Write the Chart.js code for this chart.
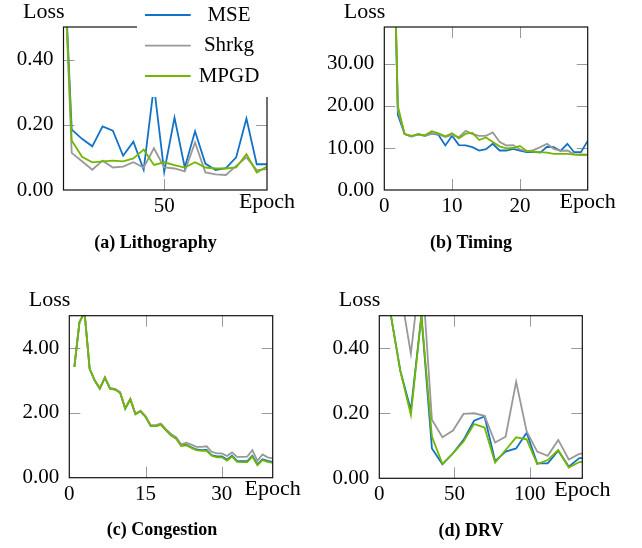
<!DOCTYPE html>
<html>
<head>
<meta charset="utf-8">
<script src="https://cdn.jsdelivr.net/npm/chart.js@4.4.1/dist/chart.umd.min.js"></script>
<style>
  body { margin: 0; background: #fff; }
  #wrap { position: relative; width: 642px; height: 548px; }
  canvas { position: absolute; }
</style>
</head>
<body>
<div id="wrap">
  <canvas id="chartA" width="321" height="274" style="left:0;top:0"></canvas>
  <canvas id="chartB" width="321" height="274" style="left:321px;top:0"></canvas>
  <canvas id="chartC" width="321" height="274" style="left:0;top:274px"></canvas>
  <canvas id="chartD" width="321" height="274" style="left:321px;top:274px"></canvas>
</div>
<script>
// (a) Lithography
const epochsA = [1, 5, 10, 15, 20, 25, 30, 35, 40, 45, 50, 55, 60, 65, 70, 75, 80, 85, 90, 95, 100];
const mseA   = [0.75, 0.185, 0.157, 0.134, 0.195, 0.182, 0.105, 0.148, 0.062, 0.32, 0.056, 0.222, 0.069, 0.18, 0.081, 0.061, 0.067, 0.1, 0.219, 0.079, 0.079];
const shrkgA = [0.75, 0.114, 0.088, 0.062, 0.09, 0.069, 0.072, 0.085, 0.069, 0.128, 0.069, 0.066, 0.057, 0.146, 0.054, 0.048, 0.046, 0.074, 0.1, 0.061, 0.064];
const mpgdA  = [0.75, 0.152, 0.102, 0.085, 0.088, 0.09, 0.088, 0.097, 0.124, 0.077, 0.085, 0.076, 0.069, 0.085, 0.069, 0.066, 0.066, 0.069, 0.11, 0.054, 0.072];

// (b) Timing
const epochsB = [1, 2, 3, 4, 5, 6, 7, 8, 9, 10, 11, 12, 13, 14, 15, 16, 17, 18, 19, 20, 21, 22, 23, 24, 25, 26, 27, 28, 29, 30];
const mseB   = [90, 17.9, 13.3, 12.7, 13.3, 12.9, 13.5, 13.1, 10.6, 12.9, 10.7, 10.6, 10.2, 9.4, 9.7, 11.0, 9.4, 9.4, 9.8, 9.4, 9.0, 9.1, 8.9, 10.3, 10.2, 9.3, 11.0, 9.0, 9.0, 11.7];
const shrkgB = [90, 19, 13.3, 12.8, 13.2, 12.9, 13.4, 13.3, 12.6, 13.1, 12.6, 14.1, 13.3, 12.9, 12.9, 13.7, 11.5, 10.6, 10.7, 9.7, 9.2, 9.5, 10.2, 11.0, 9.8, 9.3, 9.4, 8.5, 8.3, 8.3];
const mpgdB  = [90, 20, 13.3, 12.9, 13.3, 13.0, 14.0, 13.5, 12.8, 13.5, 12.3, 13.4, 13.6, 11.9, 12.5, 11.4, 10.4, 9.9, 10.0, 10.5, 9.3, 9.1, 9.0, 8.9, 8.6, 8.6, 8.6, 8.4, 8.5, 8.4];

// (c) Congestion
const epochsC = [1, 2, 3, 4, 5, 6, 7, 8, 9, 10, 11, 12, 13, 14, 15, 16, 17, 18, 19, 20, 21, 22, 23, 24, 25, 26, 27, 28, 29, 30, 31, 32, 33, 34, 35, 36, 37, 38, 39, 40];
const mseC   = [3.42, 4.8, 5.1, 3.36, 3.0, 2.75, 3.09, 2.75, 2.72, 2.62, 2.13, 2.42, 1.96, 2.05, 1.88, 1.6, 1.59, 1.64, 1.47, 1.31, 1.21, 1.0, 1.02, 0.94, 0.87, 0.85, 0.86, 0.7, 0.66, 0.66, 0.56, 0.68, 0.52, 0.51, 0.51, 0.68, 0.41, 0.57, 0.52, 0.49];
const shrkgC = [3.43, 4.81, 5.1, 3.37, 3.01, 2.76, 3.1, 2.77, 2.74, 2.64, 2.15, 2.44, 1.98, 2.07, 1.9, 1.62, 1.62, 1.67, 1.5, 1.35, 1.25, 1.03, 1.08, 1.02, 0.95, 0.95, 0.97, 0.8, 0.75, 0.75, 0.67, 0.78, 0.64, 0.64, 0.65, 0.85, 0.52, 0.72, 0.63, 0.6];
const mpgdC  = [3.42, 4.8, 5.1, 3.36, 3.0, 2.75, 3.09, 2.75, 2.72, 2.62, 2.13, 2.42, 1.96, 2.05, 1.88, 1.6, 1.59, 1.64, 1.47, 1.31, 1.21, 0.98, 1.0, 0.92, 0.85, 0.83, 0.83, 0.68, 0.63, 0.63, 0.53, 0.65, 0.49, 0.48, 0.48, 0.65, 0.38, 0.54, 0.49, 0.46];

// (d) DRV
const epochsD = [7, 14, 21, 28, 35, 42, 49, 56, 63, 70, 77, 84, 91, 98, 105, 112, 119, 126, 133, 140];
const mseD   = [0.52, 0.33, 0.21, 0.5, 0.092, 0.043, 0.077, 0.118, 0.177, 0.19, 0.053, 0.082, 0.092, 0.14, 0.046, 0.046, 0.085, 0.036, 0.062, 0.062];
const shrkgD = [0.62, 0.578, 0.383, 0.665, 0.18, 0.126, 0.147, 0.198, 0.2, 0.192, 0.11, 0.128, 0.297, 0.144, 0.082, 0.069, 0.118, 0.058, 0.075, 0.08];
const mpgdD  = [0.52, 0.33, 0.195, 0.5, 0.128, 0.044, 0.077, 0.113, 0.167, 0.156, 0.048, 0.087, 0.126, 0.12, 0.044, 0.056, 0.087, 0.033, 0.05, 0.052];

const seriesNames = ['MSE', 'Shrkg', 'MPGD'];
const seriesColors = ['#1272c6', '#999999', '#72b600'];

const SERIF = "'Liberation Serif', 'Times New Roman', serif";
const W = 321, H = 274;

function pts(xs, ys) {
  return xs.map((x, i) => ({ x: x, y: ys[i] }));
}

function drawPanelExtras(chart, p) {
  const c = chart.ctx;
  const a = chart.chartArea;
  c.save();
  // frame
  c.strokeStyle = '#111';
  c.lineWidth = 1.2;
  c.strokeRect(a.left, a.top, a.right - a.left, a.bottom - a.top);

  // legend (panel a only)
  if (p.legend) {
    c.fillStyle = '#fff';
    c.fillRect(137, 0, 136, 97);
    const ys = [15, 45.7, 76];
    c.font = '21px ' + SERIF;
    c.textAlign = 'center';
    c.textBaseline = 'middle';
    seriesNames.forEach((name, i) => {
      c.strokeStyle = seriesColors[i];
      c.lineWidth = 1.8;
      c.beginPath();
      c.moveTo(145, ys[i]);
      c.lineTo(190.7, ys[i]);
      c.stroke();
      c.fillStyle = '#000';
      c.fillText(name, 229, ys[i]);
    });
  }

  // axis labels
  c.fillStyle = '#000';
  c.font = '22px ' + SERIF;
  c.textBaseline = 'middle';
  c.textAlign = 'right';
  c.fillText('Loss', a.left + 1, a.top - 15);
  c.textAlign = 'center';
  c.fillText('Epoch', a.right, a.bottom + 12);

  // caption
  c.font = 'bold 18px ' + SERIF;
  c.fillText(p.caption, p.captionX, a.bottom + 53);
  c.restore();
}

function drawInnerTicks(chart) {
  const c = chart.ctx;
  const a = chart.chartArea;
  const xs = chart.scales.x, ys = chart.scales.y;
  const len = 11;
  c.save();
  c.strokeStyle = '#9a9a9a';
  c.lineWidth = 1;
  c.beginPath();
  xs.ticks.forEach(t => {
    const px = Math.round(xs.getPixelForValue(t.value)) + 0.5;
    if (px <= a.left + 1 || px >= a.right - 1) return;
    c.moveTo(px, a.bottom); c.lineTo(px, a.bottom - len);
    c.moveTo(px, a.top); c.lineTo(px, a.top + len);
  });
  ys.ticks.forEach(t => {
    const py = Math.round(ys.getPixelForValue(t.value)) + 0.5;
    if (py >= a.bottom - 1 || py <= a.top + 1) return;
    c.moveTo(a.left, py); c.lineTo(a.left + len, py);
    c.moveTo(a.right, py); c.lineTo(a.right - len, py);
  });
  c.stroke();
  c.restore();
}

function panel(id, p) {
  const font = { family: SERIF, size: 21 };
  new Chart(document.getElementById(id), {
    type: 'line',
    data: {
      datasets: [
        { label: seriesNames[0], data: pts(p.x, p.mse),   borderColor: seriesColors[0], order: 3 },
        { label: seriesNames[1], data: pts(p.x, p.shrkg), borderColor: seriesColors[1], order: 2 },
        { label: seriesNames[2], data: pts(p.x, p.mpgd),  borderColor: seriesColors[2], order: 1 }
      ]
    },
    options: {
      responsive: false,
      animation: false,
      layout: {
        padding: { left: 0, top: p.area.top, right: W - p.area.right, bottom: H - p.area.bottom - 30 }
      },
      elements: {
        point: { radius: 0 },
        line: { borderWidth: 1.8, tension: 0, fill: false }
      },
      plugins: { legend: { display: false }, tooltip: { enabled: false } },
      scales: {
        x: {
          type: 'linear', min: p.xMin, max: p.xMax,
          afterBuildTicks: s => { s.ticks = p.xTicks.map(v => ({ value: v })); },
          afterFit: s => { s.height = 30; },
          grid: { display: false, drawTicks: false }, border: { display: false },
          ticks: { font: font, color: '#000', padding: 4, maxRotation: 0 }
        },
        y: {
          type: 'linear', min: 0, max: p.yMax,
          afterBuildTicks: s => { s.ticks = p.yTicks.map(v => ({ value: v })); },
          afterFit: s => { s.width = p.area.left; },
          grid: { display: false, drawTicks: false }, border: { display: false },
          ticks: { font: font, color: '#000', padding: 10, callback: v => v.toFixed(2) }
        }
      }
    },
    plugins: [{
      id: 'pgfFrame',
      beforeDatasetsDraw: chart => drawInnerTicks(chart),
      afterDatasetsDraw: chart => drawPanelExtras(chart, p)
    }]
  });
}

panel('chartA', {
  x: epochsA, mse: mseA, shrkg: shrkgA, mpgd: mpgdA,
  xMin: 1, xMax: 100, xTicks: [50], yMax: 0.5, yTicks: [0, 0.2, 0.4],
  area: { left: 63.5, top: 27, right: 267, bottom: 190 },
  legend: true, caption: '(a) Lithography', captionX: 155.5
});
panel('chartB', {
  x: epochsB, mse: mseB, shrkg: shrkgB, mpgd: mpgdB,
  xMin: 0, xMax: 30, xTicks: [0, 10, 20], yMax: 38.8, yTicks: [0, 10, 20, 30],
  area: { left: 63.3, top: 27, right: 266.7, bottom: 190 },
  legend: false, caption: '(b) Timing', captionX: 150
});
panel('chartC', {
  x: epochsC, mse: mseC, shrkg: shrkgC, mpgd: mpgdC,
  xMin: 0, xMax: 40, xTicks: [0, 15, 30], yMax: 5, yTicks: [0, 2, 4],
  area: { left: 69.3, top: 41.7, right: 272.7, bottom: 203.7 },
  legend: false, caption: '(c) Congestion', captionX: 162
});
panel('chartD', {
  x: epochsD, mse: mseD, shrkg: shrkgD, mpgd: mpgdD,
  xMin: 0, xMax: 135, xTicks: [0, 50, 100], yMax: 0.5, yTicks: [0, 0.2, 0.4],
  area: { left: 58.3, top: 41.7, right: 261.3, bottom: 204.3 },
  legend: false, caption: '(d) DRV', captionX: 150
});
</script>
</body>
</html>
